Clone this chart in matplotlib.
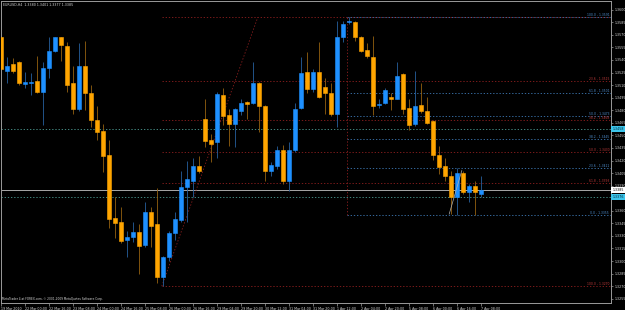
import matplotlib
matplotlib.use('Agg')
import matplotlib.pyplot as plt
import matplotlib.transforms as mtransforms

# EURUSD H4 - gia doc tu hinh
opens = [1.3567, 1.3527, 1.3535, 1.3537, 1.3511, 1.3513, 1.3515, 1.3502, 1.3530, 1.3551,
         1.3567, 1.3557, 1.3512, 1.3481, 1.3533, 1.3501, 1.3468, 1.3455, 1.3427, 1.3351,
         1.3346, 1.3325, 1.3329, 1.3335, 1.3319, 1.3358, 1.3344, 1.3281, 1.3305, 1.3333,
         1.3349, 1.3388, 1.3396, 1.3413, 1.3470, 1.3444, 1.3442, 1.3498, 1.3474, 1.3464,
         1.3479, 1.3490, 1.3489, 1.3513, 1.3485, 1.3408, 1.3413, 1.3433, 1.3396, 1.3433,
         1.3483, 1.3526, 1.3505, 1.3526, 1.3508, 1.3501, 1.3476, 1.3567, 1.3585, 1.3585,
         1.3568, 1.3552, 1.3544, 1.3486, 1.3489, 1.3496, 1.3494, 1.3523, 1.3483, 1.3463,
         1.3486, 1.3479, 1.3467, 1.3427, 1.3413, 1.3402, 1.3376, 1.3405, 1.3382, 1.3390,
         1.3380]
highs = [1.3569, 1.3544, 1.3542, 1.3539, 1.3526, 1.3524, 1.3545, 1.3538, 1.3568, 1.3568,
         1.3568, 1.3561, 1.3533, 1.3560, 1.3563, 1.3510, 1.3485, 1.3464, 1.3444, 1.3376,
         1.3364, 1.3336, 1.3346, 1.3344, 1.3370, 1.3364, 1.3387, 1.3306, 1.3336, 1.3358,
         1.3407, 1.3419, 1.3423, 1.3425, 1.3493, 1.3452, 1.3502, 1.3506, 1.3481, 1.3483,
         1.3493, 1.3491, 1.3537, 1.3514, 1.3486, 1.3418, 1.3437, 1.3439, 1.3442, 1.3489,
         1.3543, 1.3549, 1.3529, 1.3561, 1.3519, 1.3513, 1.3587, 1.3587, 1.3591, 1.3587,
         1.3569, 1.3560, 1.3569, 1.3493, 1.3507, 1.3501, 1.3538, 1.3524, 1.3493, 1.3527,
         1.3512, 1.3496, 1.3468, 1.3437, 1.3423, 1.3407, 1.3411, 1.3408, 1.3392, 1.3395,
         1.3401]
lows = [1.3502, 1.3512, 1.3525, 1.3510, 1.3506, 1.3498, 1.3500, 1.3462, 1.3519, 1.3549,
        1.3539, 1.3502, 1.3475, 1.3479, 1.3480, 1.3460, 1.3445, 1.3406, 1.3340, 1.3327,
        1.3321, 1.3305, 1.3323, 1.3285, 1.3317, 1.3317, 1.3274, 1.3270, 1.3300, 1.3325,
        1.3346, 1.3346, 1.3376, 1.3405, 1.3436, 1.3418, 1.3423, 1.3462, 1.3437, 1.3436,
        1.3474, 1.3470, 1.3487, 1.3454, 1.3395, 1.3402, 1.3410, 1.3392, 1.3383, 1.3430,
        1.3481, 1.3501, 1.3502, 1.3495, 1.3475, 1.3473, 1.3460, 1.3562, 1.3583, 1.3563,
        1.3549, 1.3542, 1.3474, 1.3483, 1.3487, 1.3480, 1.3493, 1.3476, 1.3457, 1.3461,
        1.3477, 1.3463, 1.3421, 1.3404, 1.3396, 1.3356, 1.3355, 1.3380, 1.3371, 1.3355,
        1.3377]
closes = [1.3529, 1.3533, 1.3527, 1.3512, 1.3514, 1.3514, 1.3502, 1.3530, 1.3551, 1.3567,
          1.3558, 1.3510, 1.3482, 1.3533, 1.3500, 1.3468, 1.3454, 1.3425, 1.3350, 1.3345,
          1.3324, 1.3329, 1.3335, 1.3318, 1.3358, 1.3342, 1.3281, 1.3305, 1.3333, 1.3350,
          1.3388, 1.3398, 1.3414, 1.3407, 1.3443, 1.3440, 1.3499, 1.3473, 1.3463, 1.3481,
          1.3489, 1.3488, 1.3513, 1.3485, 1.3407, 1.3415, 1.3433, 1.3396, 1.3432, 1.3482,
          1.3525, 1.3505, 1.3526, 1.3496, 1.3500, 1.3476, 1.3568, 1.3583, 1.3587, 1.3568,
          1.3551, 1.3545, 1.3485, 1.3488, 1.3504, 1.3493, 1.3521, 1.3482, 1.3462, 1.3485,
          1.3479, 1.3465, 1.3427, 1.3412, 1.3401, 1.3377, 1.3405, 1.3382, 1.3389, 1.3382,
          1.3385]

time_idx = list(range(0, 81, 4))
time_labels = ['19 Mar 2010', '22 Mar 00:00', '22 Mar 16:00', '23 Mar 08:00', '24 Mar 00:00',
               '24 Mar 16:00', '25 Mar 08:00', '26 Mar 00:00', '26 Mar 16:00', '29 Mar 04:00',
               '29 Mar 20:00', '30 Mar 12:00', '31 Mar 04:00', '31 Mar 20:00', '1 Apr 12:00',
               '2 Apr 04:00', '2 Apr 20:00', '5 Apr 08:00', '6 Apr 00:00', '6 Apr 16:00',
               '7 Apr 08:00']

price_ticks = [1.3600, 1.3585, 1.3570, 1.3555, 1.3540, 1.3525, 1.3510, 1.3495, 1.3480,
               1.3465, 1.3450, 1.3435, 1.3420, 1.3405, 1.3390, 1.3360, 1.3345, 1.3330,
               1.3315, 1.3300, 1.3285, 1.3270, 1.3255]

# Fibonacci
fib_levels = [0.0, 23.6, 38.2, 50.0, 61.8, 100.0]
red_fib_high, red_fib_low = 1.3591, 1.3270   # 0.0 o dinh, 100 o day
blue_fib_high, blue_fib_low = 1.3591, 1.3355  # 100 o dinh, 0.0 o day

hline_teal = [1.3458, 1.3376]
bid_price = 1.3385

BG = 'black'
FG = '#d8d8d8'
GRAY = '#9a9a9a'
ORANGE = '#ffa500'
BLUE = '#1e90ff'
DOT = (0, (1.6, 2.2))

fig = plt.figure(figsize=(6.25, 3.1), dpi=100, facecolor=BG)
ax = fig.add_axes([1 / 625, 7 / 310, 610 / 625, 302 / 310], facecolor=BG)

x_right = 610 / 6
ax.set_xlim(0, x_right)
ax.set_ylim(1.32499, 1.36104)

# cac duong ngang
for p in hline_teal:
    ax.axhline(p, color='#4d9c94', linestyle=DOT, linewidth=0.6, zorder=1)
ax.axhline(bid_price, color='#a8a8a8', linewidth=0.7, zorder=1)

# fibo do
red_range = red_fib_high - red_fib_low
for lv in fib_levels:
    p = red_fib_high - lv / 100 * red_range
    ax.hlines(p, 26.8, x_right, color='#8e1f1f', linestyle=DOT, linewidth=0.6, zorder=1)
    if lv > 0:
        ax.text(x_right - 0.3, p, '%.1f - %.4f' % (lv, p), color='#c03a3a', fontsize=2.2,
                ha='right', va='bottom', zorder=3)
ax.plot([26.8, 42.8], [red_fib_low, red_fib_high], color='#8e1f1f',
        linestyle=DOT, linewidth=0.6, zorder=1)

# fibo xanh
blue_range = blue_fib_high - blue_fib_low
for lv in fib_levels:
    p = blue_fib_low + lv / 100 * blue_range
    ax.hlines(p, 57.7, x_right, color='#3d78b4', linestyle=DOT, linewidth=0.6, zorder=1)
    ax.text(x_right - 0.3, p, '%.1f - %.4f' % (lv, p), color='#4f8fd0', fontsize=2.2,
            ha='right', va='bottom', zorder=3)
ax.vlines(57.7, blue_fib_low, blue_fib_high, color='#8e1f1f', linestyle=DOT,
          linewidth=0.6, zorder=1)
ax.plot([74.7, 76.8], [1.3356, 1.3408], color='#b0b0b0', linewidth=0.5, zorder=4)

# nen
for i in range(len(opens)):
    o, h, l, c = opens[i], highs[i], lows[i], closes[i]
    up = c >= o
    col = BLUE if up else ORANGE
    wick = '#27609f' if up else '#956210'
    ax.vlines(i, l, h, color=wick, linewidth=0.6, zorder=2)
    ax.bar(i, abs(c - o), bottom=min(o, c), width=0.62, color=col, edgecolor=col,
           linewidth=0.4, zorder=3)

# truc
for s in ['left', 'right', 'top', 'bottom']:
    ax.spines[s].set_color(GRAY)
    ax.spines[s].set_linewidth(0.7)

ax.yaxis.tick_right()
ax.set_yticks(price_ticks)
ax.set_yticklabels(['%.4f' % p for p in price_ticks])
ax.tick_params(axis='y', direction='out', length=1.5, width=0.5, colors=GRAY,
               labelcolor=FG, labelsize=2.3, pad=1)
ax.set_xticks(time_idx)
ax.set_xticklabels(time_labels, ha='left')
ax.tick_params(axis='x', direction='out', length=2, width=0.5, colors=GRAY,
               labelcolor=FG, labelsize=2.3, pad=0.8)

# hop gia tren truc
trans = mtransforms.blended_transform_factory(ax.transAxes, ax.transData)
for p in hline_teal:
    ax.text(1.002, p, '%.4f' % p, transform=trans, fontsize=2.3,
            color='#002838', va='center', ha='left',
            bbox=dict(boxstyle='square,pad=0.3', facecolor='#3cc4ea', edgecolor='none'))
ax.text(1.002, bid_price, '%.4f' % bid_price, transform=trans, fontsize=2.3,
        color='black', va='center', ha='left',
        bbox=dict(boxstyle='square,pad=0.3', facecolor='white', edgecolor='none'))

fig.text(3 / 625, 1 - 4.5 / 310, 'EURUSD,H4  1.3380 1.3401 1.3377 1.3385', color=FG,
         fontsize=2.3, ha='left', va='center')
fig.text(2.5 / 625, 1 - 299 / 310,
         'MetaTrader 4 at FOREX.com, \u00a9 2001-2009 MetaQuotes Software Corp.',
         color=FG, fontsize=2.1, ha='left', va='center')

plt.savefig('out.png', dpi=100, facecolor=BG)
